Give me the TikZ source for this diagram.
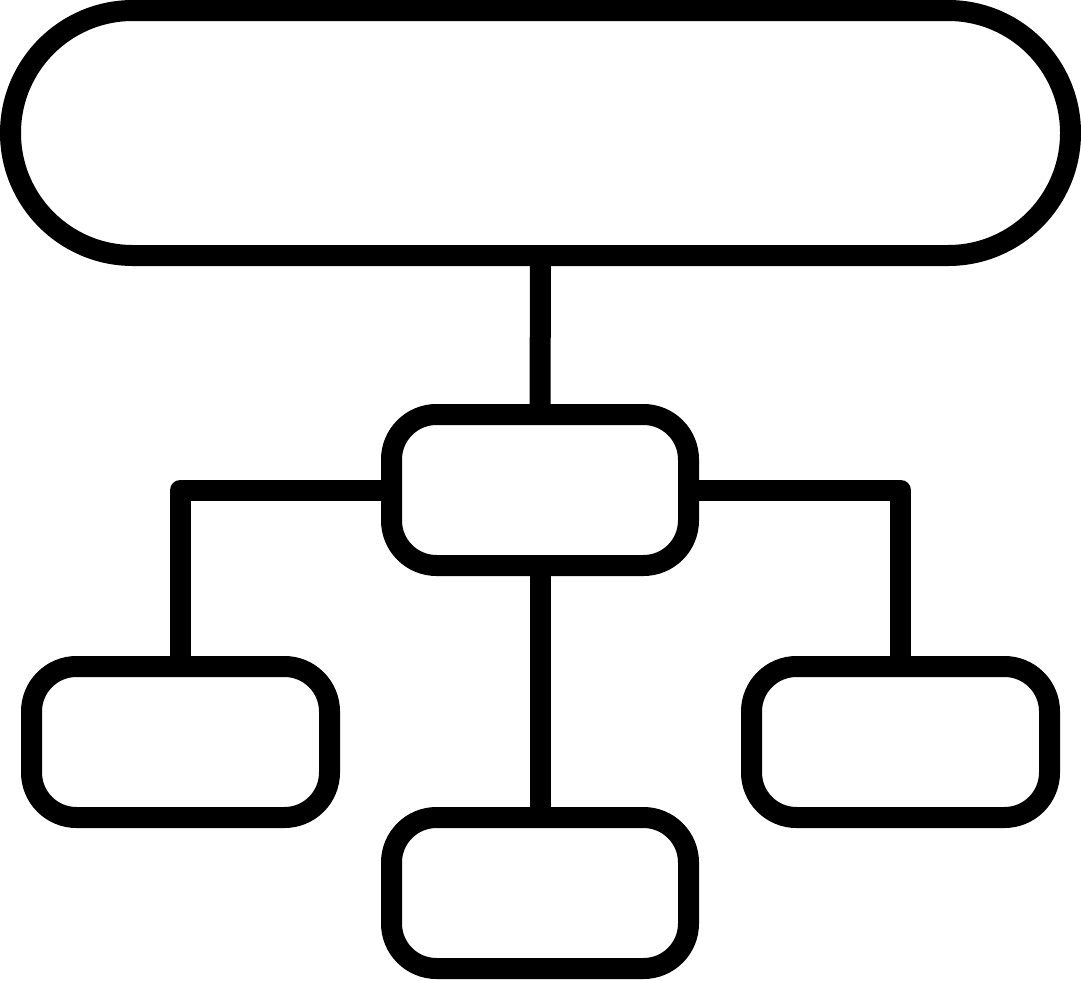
\documentclass[tikz,border=0pt]{standalone}
\begin{document}
\begin{tikzpicture}[x=1pt,y=-1pt,
  ln/.style={line width=21pt,draw=black},
  boxn/.style={ln,rectangle,rounded corners=45pt,minimum width=298pt,minimum height=151pt,inner sep=0pt,outer sep=0pt},
  pill/.style={ln,rectangle,rounded corners=122.4pt,minimum width=1060pt,minimum height=245pt,inner sep=0pt,outer sep=0pt},
  conn/.style={ln,line join=round}]
\useasboundingbox (0,0) rectangle (1081,980);
\node[pill] (top) at (540.5,133) {};
\node[boxn,minimum width=297pt] (mid) at (540,490) {};
\node[boxn] (left) at (180.5,742) {};
\node[boxn] (right) at (900.5,742) {};
\node[boxn,minimum width=297pt] (bottom) at (540,893) {};
\draw[conn] (top.south) -- (mid.north);
\draw[conn] (mid.south) -- (bottom.north);
\draw[conn] (mid.west) -| (left.north);
\draw[conn] (mid.east) -| (right.north);
\end{tikzpicture}
\end{document}
